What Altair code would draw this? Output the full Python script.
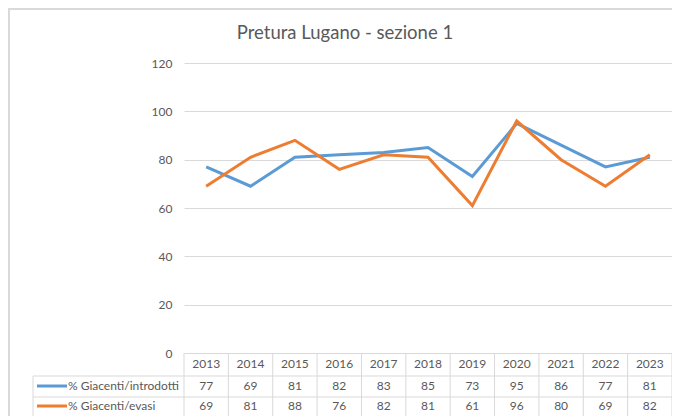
import altair as alt
import pandas as pd

years = ["2013", "2014", "2015", "2016", "2017", "2018", "2019", "2020", "2021", "2022", "2023"]
introdotti = [77, 69, 81, 82, 83, 85, 73, 95, 86, 77, 81]
evasi = [69, 81, 88, 76, 82, 81, 61, 96, 80, 69, 82]
series_names = ["% Giacenti/introdotti", "% Giacenti/evasi"]
colors = ["#5B9BD5", "#ED7D31"]
y_ticks = [0, 20, 40, 60, 80, 100, 120]
title_text = "Pretura Lugano - sezione 1"

W, H = 488, 290
FONT = "Lato"
TXT = "#595959"
GRID = "#d9d9d9"

df = pd.DataFrame({
    "year": years * 2,
    "value": introdotti + evasi,
    "series": [series_names[0]] * len(years) + [series_names[1]] * len(years),
})
df_years = pd.DataFrame({"year": years})
one = pd.DataFrame({"t": [title_text]})

xscale = alt.Scale(type="band", domain=years, paddingInner=0, paddingOuter=0)


def xenc(**kw):
    return alt.X("year:N", scale=xscale, axis=None, **kw)


lines = alt.Chart(df).mark_line(strokeWidth=3).encode(
    x=xenc(),
    y=alt.Y(
        "value:Q",
        scale=alt.Scale(domain=[0, 120], nice=False),
        axis=alt.Axis(values=y_ticks, grid=True, gridColor=GRID, gridWidth=1, domain=False,
                      ticks=False, labelPadding=12, labelColor=TXT, labelFont=FONT,
                      labelFontSize=12, title=None),
    ),
    color=alt.Color("series:N", scale=alt.Scale(domain=series_names, range=colors), legend=None),
)

# table grid
vlines = alt.Chart(df_years).mark_rule(color=GRID, strokeWidth=1).encode(
    x=xenc(bandPosition=0), y=alt.value(H), y2=alt.value(H + 70)
)
vright = alt.Chart(one).mark_rule(color=GRID, strokeWidth=1).encode(
    x=alt.value(W), y=alt.value(H), y2=alt.value(H + 70)
)
vleft = alt.Chart(one).mark_rule(color=GRID, strokeWidth=1).encode(
    x=alt.value(-151), y=alt.value(313), y2=alt.value(H + 70)
)
h1 = alt.Chart(one).mark_rule(color=GRID, strokeWidth=1).encode(
    x=alt.value(-151), x2=alt.value(W), y=alt.value(313)
)
h2 = alt.Chart(one).mark_rule(color=GRID, strokeWidth=1).encode(
    x=alt.value(-151), x2=alt.value(W), y=alt.value(334)
)

header = alt.Chart(df_years).mark_text(font=FONT, fontSize=12, color=TXT).encode(
    x=xenc(), y=alt.value(301), text="year:N"
)

# chart frame and title
frame = alt.Chart(one).mark_rect(fillOpacity=0, stroke=GRID, strokeWidth=2).encode(
    x=alt.value(-175), x2=alt.value(W + 40), y=alt.value(-54), y2=alt.value(H + 100)
)
title = alt.Chart(one).mark_text(font=FONT, fontSize=18.5, color=TXT).encode(
    x=alt.value(161), y=alt.value(-30), text="t:N"
)

row_y = [323, 343]
layers = [frame, vlines, vright, vleft, h1, h2, lines, header, title]
for i, s in enumerate(series_names):
    sub = df[df["series"] == s]
    layers.append(
        alt.Chart(sub).mark_text(font=FONT, fontSize=12, color=TXT).encode(
            x=xenc(), y=alt.value(row_y[i]), text="value:Q"
        )
    )
    layers.append(
        alt.Chart(sub.head(1)).mark_rule(color=colors[i], strokeWidth=3).encode(
            x=alt.value(-147), x2=alt.value(-117), y=alt.value(row_y[i])
        )
    )
    layers.append(
        alt.Chart(sub.head(1)).mark_text(font=FONT, fontSize=12, color=TXT, align="left").encode(
            x=alt.value(-116), y=alt.value(row_y[i]), text="series:N"
        )
    )

chart = alt.layer(*layers).properties(
    width=W,
    height=H,
    autosize=alt.AutoSizeParams(type="none"),
    padding={"left": 176, "top": 55, "right": 0, "bottom": 63},
).configure_view(stroke=None)

chart.save("out.html", embed_options={"renderer": "svg", "actions": False})
